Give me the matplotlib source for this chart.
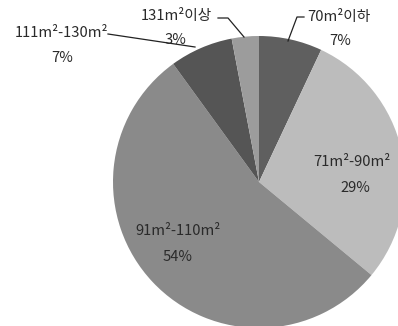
import matplotlib
matplotlib.use("Agg")
import matplotlib.pyplot as plt

plt.rcParams['font.family'] = ['Noto Sans CJK KR', 'DejaVu Sans']

categories = ["70m²이하", "71m²-90m²", "91m²-110m²", "111m²-130m²", "131m²이상"]
shares = [7, 29, 54, 7, 3]
pct_labels = ["7%", "29%", "54%", "7%", "3%"]
colors = ["#5f5f5f", "#bcbcbc", "#8a8a8a", "#555555", "#9c9c9c"]

W, H = 398, 326
cx, cy, R = 259, 182, 146

fig = plt.figure(figsize=(W / 100, H / 100), dpi=100)
ax = fig.add_axes([0, 0, 1, 1])
ax.axis('off')

ax.pie(shares, colors=colors, startangle=90, counterclock=False, radius=1.0,
       center=(0, 0), wedgeprops=dict(linewidth=0))
ax.set_xlim(-cx / R, (W - cx) / R)
ax.set_ylim(-(H - cy) / R, cy / R)
ax.set_aspect('auto')


def p(px, py):
    return ((px - cx) / R, (cy - py) / R)


label_pos = {
    "70m²이하": (339, 17, 340, 41),
    "71m²-90m²": (352, 162, 355, 188),
    "91m²-110m²": (178, 231, 178, 257),
    "111m²-130m²": (61, 33, 62, 58),
    "131m²이상": (176, 16, 175, 40),
}

for cat, pct in zip(categories, pct_labels):
    lx, ly, vx, vy = label_pos[cat]
    ax.text(*p(lx, ly), cat, ha='center', va='center', fontsize=10.6, color='#2a2a2a')
    ax.text(*p(vx, vy), pct, ha='center', va='center', fontsize=10.6, color='#2a2a2a')

# leader lines
lines = [
    [(304, 17), (297, 17), (288, 41)],
    [(218, 18), (228, 18), (244, 37)],
    [(108, 34), (195, 47)],
]
for seg in lines:
    xs, ys = zip(*[p(a, b) for a, b in seg])
    ax.plot(xs, ys, color='#222222', linewidth=0.9)

fig.savefig("out.png", dpi=100, facecolor='white')
